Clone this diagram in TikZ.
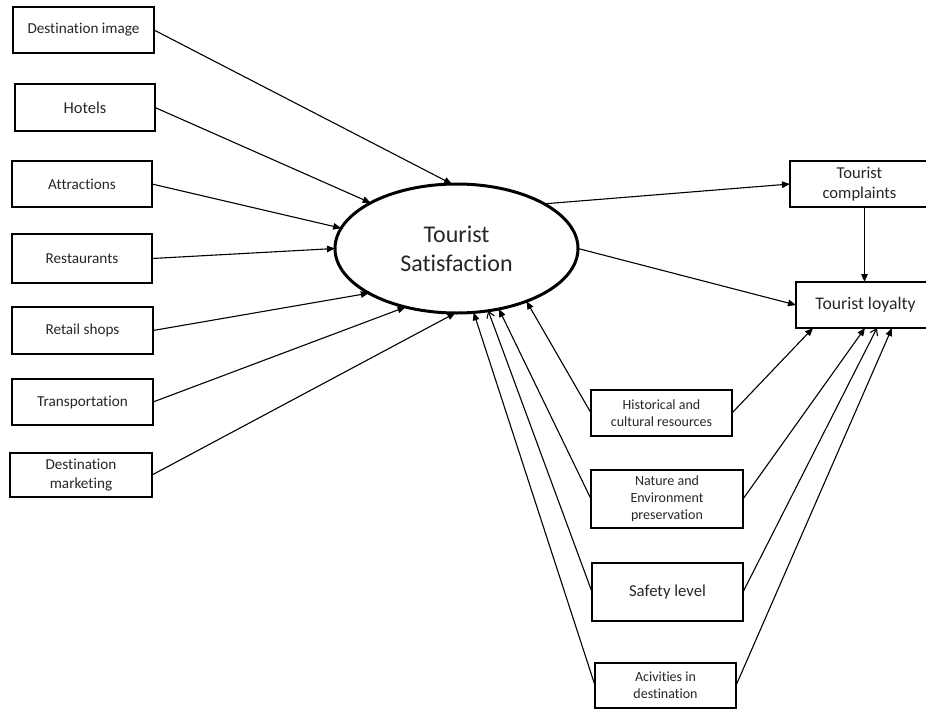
\documentclass[tikz,border=0pt]{standalone}
\usepackage{fontspec}
\setmainfont{Carlito}[Ligatures=NoCommon]
\usetikzlibrary{arrows.meta,shapes.geometric}
\begin{document}
\begin{tikzpicture}[x=1pt,y=-1pt,
  box/.style={draw, line width=2.2pt, inner sep=0pt, outer sep=0pt, align=center, text=black!85},
  lbox/.style={box, font=\fontsize{15.2}{18.3}\selectfont},
  mbox/.style={box, font=\fontsize{14}{16.8}\selectfont},
  arr/.style={line width=1.1pt, -{Triangle[length=8pt,width=6.5pt]}},
  oarr/.style={line width=1.1pt, -{Straight Barb[length=6pt,width=8pt]}},
]
\useasboundingbox (0,0) rectangle (926,709);
% left boxes
\node[lbox, minimum width=141pt, minimum height=46pt] (dimg) at (83.5,30) {Destination image};
\node[box, font=\fontsize{16.5}{20}\selectfont, minimum width=140pt, minimum height=47pt] (hot) at (85,107.5) {Hotels};
\node[lbox, minimum width=140pt, minimum height=46pt] (att) at (82,184) {Attractions};
\node[lbox, minimum width=140pt, minimum height=49pt] (res) at (82,258.5) {Restaurants};
\node[lbox, minimum width=141pt, minimum height=47pt] (ret) at (82.5,330.5) {Retail shops};
\node[lbox, minimum width=141pt, minimum height=46pt] (tra) at (82.5,402) {Transportation};
\node[lbox, minimum width=142pt, minimum height=44pt] (dmk) at (81,475) {Destination\\marketing};
% ellipse
\node[draw, ellipse, line width=3pt, minimum width=243pt, minimum height=129pt, inner sep=0pt, outer sep=0pt, align=center, text=black!85, font=\fontsize{24}{29}\selectfont] (ts) at (456.5,248.5) {Tourist\\Satisfaction};
% right boxes
\node[box, font=\fontsize{16.6}{20}\selectfont, minimum width=139pt, minimum height=46pt] (comp) at (859.5,184) {Tourist\\complaints};
\node[box, font=\fontsize{17.7}{21}\selectfont, minimum width=139pt, minimum height=46pt] (loy) at (865.5,305) {Tourist loyalty};
% middle boxes
\node[mbox, minimum width=141pt, minimum height=46pt] (his) at (661.5,413) {Historical and\\cultural resources};
\node[mbox, minimum width=152pt, minimum height=58pt] (nat) at (667,499) {Nature and\\Environment\\preservation};
\node[box, font=\fontsize{16.7}{20}\selectfont, minimum width=151pt, minimum height=58pt] (saf) at (667.5,592) {Safety level};
\node[mbox, minimum width=141pt, minimum height=45pt] (act) at (665.5,685.5) {Acivities in\\destination};
% left connectors
\draw[arr] (dimg.east) -- (ts.94);
\draw[arr] (hot.east) -- (ts.152);
\draw[arr] (att.east) -- (ts.170.8);
\draw[arr] (res.east) -- (ts.180.7);
\draw[arr] (ret.east) -- (ts.207.7);
\draw[arr] (tra.east) -- (ts.229);
\draw[arr] (dmk.east) -- (ts.269.6);
% outputs
\draw[arr] (ts.27) -- (comp.west);
\draw[arr] (ts.-0.7) -- (loy.west);
\draw[arr] ([xshift=5pt]comp.south) -- ([xshift=5pt]comp.south |- loy.north);
% middle to ellipse
\draw[arr] (his.west) -- (ts.-37.6);
\draw[arr] (nat.west) -- (ts.-55.4);
\draw[oarr] (saf.west) -- (ts.-63.3);
\draw[arr] (act.west) -- (ts.-75.7);
% middle to loyalty
\draw[arr] (his.east) -- ([xshift=17pt]loy.south west);
\draw[arr] (nat.east) -- ([xshift=69pt]loy.south west);
\draw[oarr] (saf.east) -- ([xshift=81pt]loy.south west);
\draw[arr] (act.east) -- ([xshift=96pt]loy.south west);
\end{tikzpicture}
\end{document}
